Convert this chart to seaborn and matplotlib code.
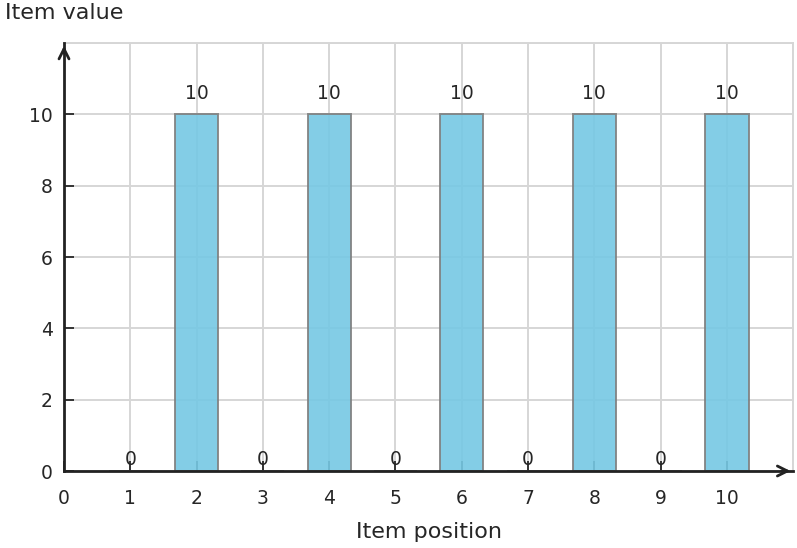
import pandas as pd
import matplotlib.pyplot as plt
import seaborn as sns

positions = [1, 2, 3, 4, 5, 6, 7, 8, 9, 10]
values = [0, 10, 0, 10, 0, 10, 0, 10, 0, 10]
x_ticks = [0, 1, 2, 3, 4, 5, 6, 7, 8, 9, 10]
y_ticks = [0, 2, 4, 6, 8, 10]

df = pd.DataFrame({'position': positions, 'value': values})

sns.set_style('white')
plt.rcParams['font.family'] = ['DejaVu Sans']
text_color = '#262626'

fig = plt.figure(figsize=(7.97, 5.48), dpi=100)
ax = fig.add_axes([0.0803, 0.1405, 0.915, 0.781])

#grid behind the semi transparent bars
for xv in range(0, 12):
    ax.axvline(xv, color='#d6d6d6', lw=1.4, zorder=0)
for yv in range(0, 13, 2):
    ax.axhline(yv, color='#d6d6d6', lw=1.4, zorder=0)

sns.barplot(data=df, x='position', y='value', native_scale=True, width=0.65,
            color='#76c8e4', edgecolor='#808080', linewidth=1.4, alpha=0.9,
            saturation=1, ax=ax, zorder=2)

ax.set_xlim(0, 11)
ax.set_ylim(0, 12)

ax.set_xticks(x_ticks)
ax.set_xticklabels([str(t) for t in x_ticks])
ax.set_yticks(y_ticks)
ax.set_yticklabels([str(t) for t in y_ticks])
ax.tick_params(bottom=True, left=True, direction='in', length=7, width=1.4,
               colors='#333333', labelcolor=text_color, labelsize=13.5)
ax.tick_params(axis='x', pad=13)
ax.tick_params(axis='y', pad=8)

for s in ['top', 'right']:
    ax.spines[s].set_color('#d6d6d6')
    ax.spines[s].set_linewidth(1.4)
for s in ['left', 'bottom']:
    ax.spines[s].set_color('#222222')
    ax.spines[s].set_linewidth(2)
    ax.spines[s].set_zorder(5)

#axis arrows
ax.annotate('', xy=(1.0, 0), xytext=(0.98, 0), xycoords='axes fraction',
            arrowprops=dict(arrowstyle='->', color='#222222', lw=2, mutation_scale=18),
            annotation_clip=False)
ax.annotate('', xy=(0, 1.0), xytext=(0, 0.97), xycoords='axes fraction',
            arrowprops=dict(arrowstyle='->', color='#222222', lw=2, mutation_scale=18),
            annotation_clip=False)

#value labels
for p, v in zip(positions, values):
    off = 0.33 if v > 0 else 0.07
    ax.text(p, v + off, str(v), ha='center', va='bottom', fontsize=13.5,
            color=text_color, zorder=6)

ax.set_xlabel('Item position', fontsize=16, color=text_color, labelpad=10)
ax.set_ylabel('')
fig.text(0.006, 0.977, 'Item value', ha='left', va='center', fontsize=16, color=text_color)

plt.savefig('out.png', dpi=100)
